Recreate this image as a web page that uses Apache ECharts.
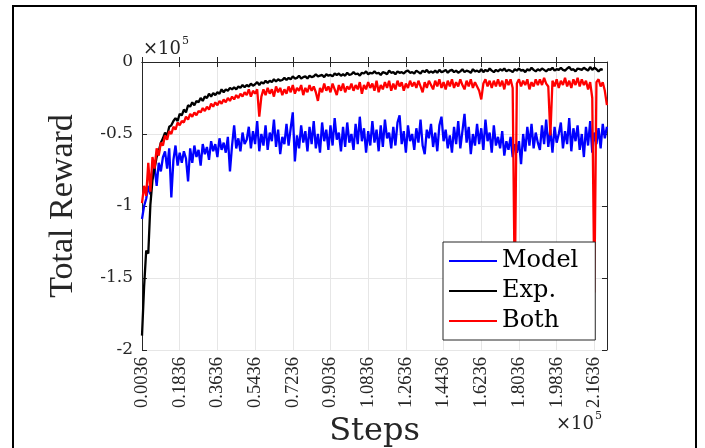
<!DOCTYPE html>
<html>
<head>
    <meta http-equiv="Content-Type" content="text/html; charset=utf-8"/>
    <style type="text/css">
        body, html {
            width: 100%;
            height: 100%;
            margin: 0;
            background: #fff;
        }

        #chart {
            width: 705px;
            height: 448px;
        }
    </style>
    <script src="https://cdn.jsdelivr.net/npm/echarts@6/dist/echarts.min.js"></script>
    <title>Total Reward</title>
</head>
<body>
<div id="chart"></div>
<script type="text/javascript">
    // steps in units of 1e5, one sample every 1000 steps starting at 360
    var stepStart = 0.0036;
    var stepSize = 0.01;
    var xTicks = [0.0036, 0.1836, 0.3636, 0.5436, 0.7236, 0.9036, 1.0836, 1.2636, 1.4436, 1.6236, 1.8036, 1.9836, 2.1636];
    var yTicks = [-2, -1.5, -1, -0.5, 0];
    var legendNames = ['Model', 'Exp.', 'Both'];

    // total reward, units of 1e5
    var modelReward = [
        -1.09, -1.00, -0.95, -0.86, -0.92, -0.78, -0.73, -0.86, -0.70, -0.76,
        -0.66, -0.62, -0.74, -0.60, -0.94, -0.68, -0.58, -0.72, -0.63, -0.70,
        -0.62, -0.67, -0.83, -0.60, -0.70, -0.58, -0.66, -0.61, -0.72, -0.57,
        -0.64, -0.59, -0.68, -0.55, -0.62, -0.57, -0.66, -0.53, -0.61, -0.56,
        -0.63, -0.52, -0.76, -0.58, -0.44, -0.60, -0.53, -0.62, -0.49, -0.57,
        -0.54, -0.45, -0.60, -0.48, -0.57, -0.41, -0.62, -0.50, -0.58, -0.44,
        -0.61, -0.49, -0.55, -0.40, -0.59, -0.47, -0.64, -0.52, -0.57, -0.43,
        -0.58, -0.46, -0.35, -0.69, -0.51, -0.60, -0.44, -0.56, -0.48, -0.62,
        -0.45, -0.57, -0.41, -0.60, -0.50, -0.63, -0.42, -0.55, -0.47, -0.61,
        -0.44, -0.58, -0.39, -0.54, -0.49, -0.62, -0.45, -0.59, -0.42, -0.56,
        -0.50, -0.61, -0.43, -0.57, -0.38, -0.55, -0.46, -0.63, -0.48, -0.58,
        -0.41, -0.56, -0.47, -0.62, -0.44, -0.59, -0.40, -0.53, -0.49, -0.60,
        -0.45, -0.58, -0.42, -0.37, -0.57, -0.48, -0.63, -0.44, -0.55, -0.50,
        -0.61, -0.46, -0.56, -0.40, -0.58, -0.64, -0.47, -0.53, -0.43, -0.59,
        -0.49, -0.62, -0.44, -0.38, -0.55, -0.47, -0.60, -0.51, -0.63, -0.45,
        -0.57, -0.41, -0.60, -0.48, -0.36, -0.56, -0.45, -0.64, -0.50, -0.58,
        -0.43, -0.57, -0.46, -0.61, -0.40, -0.55, -0.49, -0.63, -0.44, -0.58,
        -0.52, -0.60, -0.48, -0.65, -0.55, -0.61, -0.52, -0.66, -0.57, -0.63,
        -0.55, -0.71, -0.50, -0.62, -0.45, -0.58, -0.43, -0.60, -0.49, -0.56,
        -0.61, -0.44, -0.57, -0.40, -0.59, -0.47, -0.63, -0.45, -0.56, -0.50,
        -0.42, -0.60, -0.48, -0.57, -0.39, -0.62, -0.46, -0.55, -0.44, -0.61,
        -0.50, -0.66, -0.45, -0.58, -0.41, -0.63, -0.49, -0.57, -0.46, -0.60,
        -0.43, -0.53, -0.45
    ];
    var expReward = [
        -1.90, -1.56, -1.31, -1.33, -0.99, -0.82, -0.74, -0.66, -0.62, -0.56,
        -0.53, -0.49, -0.51, -0.45, -0.44, -0.41, -0.39, -0.41, -0.36, -0.37,
        -0.33, -0.35, -0.30, -0.31, -0.28, -0.30, -0.27, -0.28, -0.25, -0.27,
        -0.24, -0.25, -0.22, -0.24, -0.215, -0.23, -0.21, -0.22, -0.19, -0.21,
        -0.19, -0.20, -0.18, -0.19, -0.175, -0.19, -0.17, -0.18, -0.16, -0.175,
        -0.16, -0.17, -0.15, -0.165, -0.155, -0.14, -0.16, -0.14, -0.15, -0.13,
        -0.145, -0.13, -0.14, -0.12, -0.135, -0.12, -0.13, -0.125, -0.11, -0.125,
        -0.11, -0.12, -0.10, -0.115, -0.11, -0.095, -0.115, -0.105, -0.10, -0.115,
        -0.095, -0.105, -0.10, -0.085, -0.10, -0.095, -0.09, -0.105, -0.085, -0.095,
        -0.09, -0.10, -0.08, -0.09, -0.08, -0.095, -0.085, -0.095, -0.075, -0.09,
        -0.085, -0.07, -0.085, -0.08, -0.095, -0.075, -0.08, -0.065, -0.085, -0.075,
        -0.08, -0.065, -0.08, -0.075, -0.09, -0.07, -0.075, -0.085, -0.06, -0.075,
        -0.07, -0.085, -0.065, -0.075, -0.07, -0.08, -0.065, -0.06, -0.075, -0.07,
        -0.08, -0.06, -0.07, -0.08, -0.06, -0.07, -0.055, -0.075, -0.065, -0.075,
        -0.06, -0.075, -0.055, -0.07, -0.065, -0.055, -0.075, -0.06, -0.055, -0.07,
        -0.06, -0.075, -0.065, -0.05, -0.07, -0.06, -0.065, -0.075, -0.05, -0.065,
        -0.06, -0.07, -0.05, -0.07, -0.055, -0.065, -0.045, -0.06, -0.07, -0.055,
        -0.065, -0.05, -0.06, -0.045, -0.065, -0.055, -0.06, -0.07, -0.05, -0.06,
        -0.045, -0.06, -0.055, -0.07, -0.05, -0.06, -0.04, -0.055, -0.065, -0.05,
        -0.06, -0.045, -0.055, -0.065, -0.05, -0.055, -0.04, -0.06, -0.05, -0.055,
        -0.04, -0.055, -0.06, -0.045, -0.035, -0.055, -0.05, -0.065, -0.045, -0.05,
        -0.055, -0.04, -0.05, -0.06, -0.035, -0.055, -0.04, -0.05, -0.065, -0.05,
        -0.055
    ];
    var bothReward = [
        -0.98, -0.86, -0.93, -0.70, -0.90, -0.66, -0.74, -0.60, -0.65, -0.56,
        -0.58, -0.51, -0.54, -0.48, -0.50, -0.45, -0.47, -0.42, -0.44, -0.41,
        -0.42, -0.38, -0.40, -0.36, -0.38, -0.35, -0.37, -0.34, -0.35, -0.32,
        -0.34, -0.31, -0.33, -0.29, -0.31, -0.28, -0.30, -0.27, -0.29, -0.26,
        -0.28, -0.25, -0.27, -0.24, -0.26, -0.23, -0.25, -0.22, -0.24, -0.21,
        -0.23, -0.19, -0.24, -0.20, -0.22, -0.19, -0.38, -0.24, -0.19, -0.23,
        -0.18, -0.22, -0.19, -0.24, -0.17, -0.21, -0.18, -0.23, -0.19, -0.22,
        -0.17, -0.21, -0.16, -0.22, -0.18, -0.20, -0.16, -0.23, -0.18, -0.21,
        -0.16, -0.20, -0.17, -0.21, -0.27, -0.18, -0.21, -0.15, -0.20, -0.17,
        -0.21, -0.15, -0.19, -0.23, -0.16, -0.20, -0.15, -0.21, -0.17, -0.19,
        -0.15, -0.20, -0.16, -0.19, -0.14, -0.22, -0.16, -0.19, -0.14, -0.18,
        -0.15, -0.20, -0.13, -0.21, -0.16, -0.19, -0.14, -0.18, -0.13, -0.20,
        -0.15, -0.19, -0.13, -0.17, -0.14, -0.20, -0.15, -0.18, -0.13, -0.17,
        -0.14, -0.18, -0.13, -0.17, -0.21, -0.14, -0.18, -0.13, -0.16, -0.19,
        -0.13, -0.17, -0.12, -0.18, -0.14, -0.19, -0.13, -0.17, -0.12, -0.18,
        -0.14, -0.17, -0.12, -0.16, -0.19, -0.13, -0.17, -0.12, -0.18, -0.14,
        -0.17, -0.20, -0.26, -0.15, -0.12, -0.17, -0.13, -0.18, -0.13, -0.17,
        -0.12, -0.17, -0.13, -0.19, -0.12, -0.16, -0.12, -0.18, -1.60, -0.15,
        -0.12, -0.17, -0.13, -0.16, -0.12, -0.19, -0.14, -0.17, -0.12, -0.16,
        -0.12, -0.16, -0.11, -0.15, -0.17, -0.51, -0.13, -0.17, -0.12, -0.18,
        -0.13, -0.16, -0.11, -0.17, -0.13, -0.18, -0.12, -0.16, -0.11, -0.17,
        -0.12, -0.16, -0.13, -0.19, -0.14, -0.25, -1.60, -0.14, -0.12, -0.17,
        -0.14, -0.20, -0.30
    ];

    function toPoints(vals) {
        return vals.map(function (v, i) {
            return [stepStart + i * stepSize, v];
        });
    }

    var axisColor = '#262626';
    var gridColor = '#e6e6e6';
    var xMin = 0.0036, xMax = 2.224;

    function xLabel(v) {
        for (var i = 0; i < xTicks.length; i++) {
            if (Math.abs(v - xTicks[i]) < 1e-6) return xTicks[i].toFixed(4);
        }
        return '';
    }

    var myChart = echarts.init(document.getElementById('chart'));

    var option = {
        animation: false,
        backgroundColor: '#fff',
        grid: {left: 142, top: 62, width: 465, height: 288, outerBoundsMode: 'none'},
        legend: {
            data: legendNames,
            orient: 'vertical',
            left: 443,
            top: 242,
            padding: [7, 17, 7, 6],
            itemGap: 6,
            itemWidth: 48,
            itemHeight: 2,
            icon: 'rect',
            backgroundColor: '#fff',
            borderColor: axisColor,
            borderWidth: 1,
            textStyle: {fontFamily: 'DejaVu Serif', fontSize: 24, color: '#000', lineHeight: 24}
        },
        xAxis: [
            {
                type: 'value',
                position: 'bottom',
                min: xMin,
                max: xMax,
                interval: 0.18,
                name: 'Steps',
                nameLocation: 'middle',
                nameGap: 66,
                nameTextStyle: {fontFamily: 'DejaVu Serif', fontSize: 32, color: axisColor},
                axisLine: {lineStyle: {color: axisColor, width: 1}},
                axisTick: {inside: true, length: 5, lineStyle: {color: axisColor}},
                axisLabel: {
                    rotate: 90, margin: 7, showMaxLabel: false,
                    fontFamily: 'Liberation Serif', fontSize: 18.5, color: axisColor,
                    formatter: xLabel
                },
                splitLine: {show: true, lineStyle: {color: gridColor, width: 1}}
            },
            {
                type: 'value',
                position: 'top',
                min: xMin,
                max: xMax,
                interval: 0.18,
                axisLine: {lineStyle: {color: axisColor, width: 1}},
                axisTick: {inside: true, length: 5, lineStyle: {color: axisColor}},
                axisLabel: {show: false},
                splitLine: {show: false}
            }
        ],
        yAxis: [
            {
                type: 'value',
                position: 'left',
                min: yTicks[0],
                max: yTicks[yTicks.length - 1],
                interval: 0.5,
                name: 'Total Reward',
                nameLocation: 'middle',
                nameGap: 62,
                nameTextStyle: {fontFamily: 'Liberation Serif', fontSize: 34, color: axisColor},
                axisLine: {show: true, lineStyle: {color: axisColor, width: 1}},
                axisTick: {show: true, inside: true, length: 5, lineStyle: {color: axisColor}},
                axisLabel: {margin: 9, fontFamily: 'DejaVu Serif', fontSize: 17, color: axisColor},
                splitLine: {show: true, lineStyle: {color: gridColor, width: 1}}
            },
            {
                type: 'value',
                position: 'right',
                min: yTicks[0],
                max: yTicks[yTicks.length - 1],
                interval: 0.5,
                axisLine: {show: true, lineStyle: {color: axisColor, width: 1}},
                axisTick: {show: true, inside: true, length: 5, lineStyle: {color: axisColor}},
                axisLabel: {show: false},
                splitLine: {show: false}
            }
        ],
        series: [
            {
                name: 'Model', type: 'line', symbol: 'none',
                lineStyle: {color: '#0000ff', width: 2.3}, itemStyle: {color: '#0000ff'},
                data: toPoints(modelReward)
            },
            {
                name: 'Exp.', type: 'line', symbol: 'none',
                lineStyle: {color: '#000000', width: 2.3}, itemStyle: {color: '#000000'},
                data: toPoints(expReward)
            },
            {
                name: 'Both', type: 'line', symbol: 'none',
                lineStyle: {color: '#ff0000', width: 2.3}, itemStyle: {color: '#ff0000'},
                data: toPoints(bothReward)
            }
        ],
        graphic: [
            {
                type: 'rect', z: 100, silent: true,
                shape: {x: 13, y: 6, width: 683, height: 470},
                style: {fill: null, stroke: '#000', lineWidth: 2}
            },
            {type: 'text', left: 143, top: 40, style: {text: '×10', font: '18px "DejaVu Serif"', fill: axisColor}},
            {type: 'text', left: 182, top: 36, style: {text: '5', font: '11px "DejaVu Serif"', fill: axisColor}},
            {type: 'text', left: 556, top: 415, style: {text: '×10', font: '18px "DejaVu Serif"', fill: axisColor}},
            {type: 'text', left: 595, top: 411, style: {text: '5', font: '11px "DejaVu Serif"', fill: axisColor}}
        ]
    };
    myChart.setOption(option);
</script>
</body>
</html>
